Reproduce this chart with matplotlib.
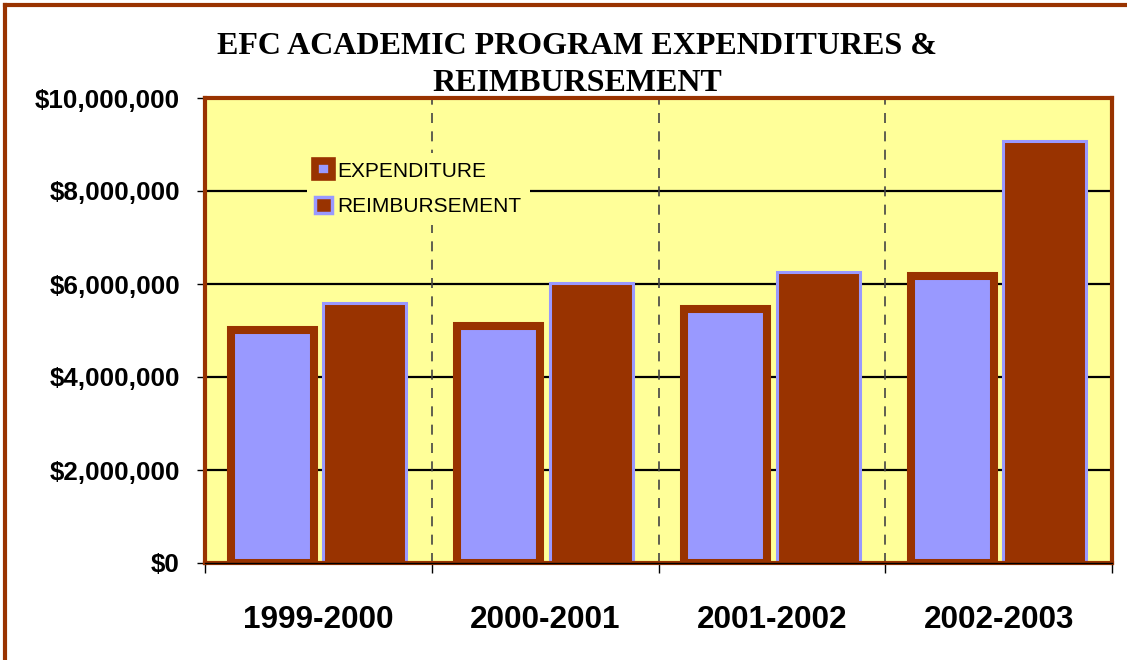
import numpy as np
import matplotlib
matplotlib.use('Agg')
from matplotlib import pyplot as plt
from matplotlib.patches import Rectangle
from matplotlib.lines import Line2D

# data
years = ['1999-2000', '2000-2001', '2001-2002', '2002-2003']
expenditure = [5020000, 5100000, 5460000, 6170000]
reimbursement = [5600000, 6020000, 6250000, 9080000]
y_ticks = [0, 2000000, 4000000, 6000000, 8000000, 10000000]

brown = '#993300'
lav = '#9999FF'
yellow = '#FFFF99'

W, H = 1127, 660
fig = plt.figure(figsize=(W / 100, H / 100), dpi=100)
fig.patch.set_facecolor('white')

ax = fig.add_axes([205 / W, 1 - 563 / H, (1112 - 205) / W, (563 - 98) / H])
ax.set_facecolor(yellow)

x = np.arange(len(years))
bw = 0.366
off = 0.204
ax.bar(x - off, expenditure, bw, color=lav, edgecolor=brown, linewidth=5.8, zorder=3)
ax.bar(x + off, reimbursement, bw, color=brown, edgecolor=lav, linewidth=2.2, zorder=3)

ax.set_xlim(-0.5, 3.5)
ax.set_ylim(0, 10000000)

# gridlines
for v in y_ticks[1:-1]:
    ax.axhline(v, color='black', lw=1.6, zorder=1)
for b in [0.5, 1.5, 2.5]:
    ax.axvline(b, color='#444444', lw=1.2, ls=(0, (6, 5)), zorder=1)

ax.set_yticks(y_ticks)
ax.set_yticklabels(['${:,}'.format(v) for v in y_ticks],
                   fontfamily='Liberation Sans', fontweight='bold', fontsize=18.7)
ax.set_xticks(x)
ax.set_xticklabels(years, fontfamily='Liberation Sans', fontweight='bold', fontsize=22.7)
ax.set_xticks([-0.5, 0.5, 1.5, 2.5, 3.5], minor=True)
ax.tick_params(axis='x', which='major', length=0, pad=30)
ax.tick_params(axis='x', which='minor', length=7, width=1, color='black', direction='out')
ax.tick_params(axis='y', length=6, width=1, color='black', direction='out', pad=12)

for s in ax.spines.values():
    s.set_color(brown)
    s.set_linewidth(3)
    s.set_zorder(4)
ax.axhline(0, color='black', lw=1, zorder=5, clip_on=False)

# legend
h1 = Rectangle((0, 0), 1, 1, facecolor=lav, edgecolor=brown, linewidth=5.5)
h2 = Rectangle((0, 0), 1, 1, facecolor=brown, edgecolor=lav, linewidth=2.5)
leg = ax.legend([h1, h2], ['EXPENDITURE', 'REIMBURSEMENT'],
                loc='upper left', bbox_to_anchor=((307 - 205) / 907, (563 - 153) / 465),
                frameon=True, facecolor=yellow, edgecolor='none', framealpha=1,
                prop={'family': 'Liberation Sans', 'size': 15},
                handlelength=0.8, handleheight=0.8, handletextpad=0.25,
                labelspacing=0.8, borderpad=0.4, borderaxespad=0, fancybox=False)
leg.set_zorder(6)

fig.text(577 / W, 1 - 65 / H, 'EFC ACADEMIC PROGRAM EXPENDITURES &\nREIMBURSEMENT',
         ha='center', va='center', fontfamily='Liberation Serif', fontweight='bold',
         fontsize=23, linespacing=1.35)

# outer chart border (left and top visible)
fig.add_artist(Line2D([5 / W, 5 / W], [-0.1, 1 - 5 / H], color=brown, lw=3,
                      transform=fig.transFigure))
fig.add_artist(Line2D([5 / W, 1.1], [1 - 5 / H, 1 - 5 / H], color=brown, lw=3,
                      transform=fig.transFigure))

fig.savefig('out.png', dpi=100)
